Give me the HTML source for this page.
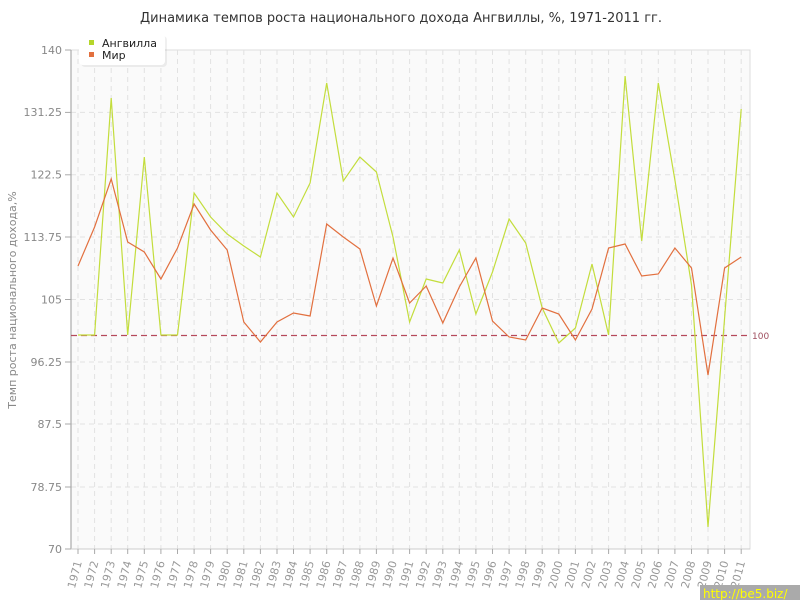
<!DOCTYPE html>
<html><head><meta charset="utf-8"><style>
body{margin:0;background:#fff;}
svg{display:block;font-family:"DejaVu Sans","Liberation Sans",sans-serif;}
</style></head><body>
<svg width="800" height="600" viewBox="0 0 800 600">
<text x="401" y="22" text-anchor="middle" font-size="13" fill="#333">Динамика темпов роста национального дохода Ангвиллы, %, 1971-2011 гг.</text>
<rect x="71" y="50" width="679" height="499" fill="#fafafa" stroke="#ddd"/>
<g stroke="#e2e2e2" stroke-dasharray="5,4" stroke-width="1">
<line x1="71" x2="750" y1="112.4" y2="112.4"/><line x1="71" x2="750" y1="174.8" y2="174.8"/><line x1="71" x2="750" y1="237" y2="237"/><line x1="71" x2="750" y1="299.5" y2="299.5"/><line x1="71" x2="750" y1="362" y2="362"/><line x1="71" x2="750" y1="424" y2="424"/><line x1="71" x2="750" y1="487" y2="487"/>
<line x1="78" x2="78" y1="50" y2="549"/><line x1="94.6" x2="94.6" y1="50" y2="549"/><line x1="111.2" x2="111.2" y1="50" y2="549"/><line x1="127.7" x2="127.7" y1="50" y2="549"/><line x1="144.3" x2="144.3" y1="50" y2="549"/><line x1="160.9" x2="160.9" y1="50" y2="549"/><line x1="177.5" x2="177.5" y1="50" y2="549"/><line x1="194.1" x2="194.1" y1="50" y2="549"/><line x1="210.6" x2="210.6" y1="50" y2="549"/><line x1="227.2" x2="227.2" y1="50" y2="549"/><line x1="243.8" x2="243.8" y1="50" y2="549"/><line x1="260.4" x2="260.4" y1="50" y2="549"/><line x1="277" x2="277" y1="50" y2="549"/><line x1="293.5" x2="293.5" y1="50" y2="549"/><line x1="310.1" x2="310.1" y1="50" y2="549"/><line x1="326.7" x2="326.7" y1="50" y2="549"/><line x1="343.3" x2="343.3" y1="50" y2="549"/><line x1="359.9" x2="359.9" y1="50" y2="549"/><line x1="376.4" x2="376.4" y1="50" y2="549"/><line x1="393" x2="393" y1="50" y2="549"/><line x1="409.6" x2="409.6" y1="50" y2="549"/><line x1="426.2" x2="426.2" y1="50" y2="549"/><line x1="442.8" x2="442.8" y1="50" y2="549"/><line x1="459.3" x2="459.3" y1="50" y2="549"/><line x1="475.9" x2="475.9" y1="50" y2="549"/><line x1="492.5" x2="492.5" y1="50" y2="549"/><line x1="509.1" x2="509.1" y1="50" y2="549"/><line x1="525.7" x2="525.7" y1="50" y2="549"/><line x1="542.2" x2="542.2" y1="50" y2="549"/><line x1="558.8" x2="558.8" y1="50" y2="549"/><line x1="575.4" x2="575.4" y1="50" y2="549"/><line x1="592" x2="592" y1="50" y2="549"/><line x1="608.6" x2="608.6" y1="50" y2="549"/><line x1="625.1" x2="625.1" y1="50" y2="549"/><line x1="641.7" x2="641.7" y1="50" y2="549"/><line x1="658.3" x2="658.3" y1="50" y2="549"/><line x1="674.9" x2="674.9" y1="50" y2="549"/><line x1="691.5" x2="691.5" y1="50" y2="549"/><line x1="708" x2="708" y1="50" y2="549"/><line x1="724.6" x2="724.6" y1="50" y2="549"/><line x1="741.2" x2="741.2" y1="50" y2="549"/>
</g>
<line x1="71" y1="50" x2="71" y2="549" stroke="#999"/>
<line x1="71" y1="549" x2="750" y2="549" stroke="#ccc"/>
<g stroke="#aaa">
<line x1="65" x2="71" y1="50" y2="50"/><line x1="65" x2="71" y1="112.4" y2="112.4"/><line x1="65" x2="71" y1="174.8" y2="174.8"/><line x1="65" x2="71" y1="237" y2="237"/><line x1="65" x2="71" y1="299.5" y2="299.5"/><line x1="65" x2="71" y1="362" y2="362"/><line x1="65" x2="71" y1="424" y2="424"/><line x1="65" x2="71" y1="487" y2="487"/><line x1="65" x2="71" y1="549" y2="549"/>
</g>
<g font-size="11" fill="#888" text-anchor="end">
<text x="62" y="54">140</text><text x="62" y="116">131.25</text><text x="62" y="178.5">122.5</text><text x="62" y="241">113.75</text><text x="62" y="303.5">105</text><text x="62" y="366">96.25</text><text x="62" y="428">87.5</text><text x="62" y="491">78.75</text><text x="62" y="553">70</text>
</g>
<text transform="translate(16,300) rotate(-90)" text-anchor="middle" font-size="11" fill="#888">Темп роста национального дохода,%</text>
<line x1="71" y1="335.5" x2="750" y2="335.5" stroke="#b5495b" stroke-width="1.3" stroke-dasharray="6,4"/>
<text x="752" y="339" font-size="9" fill="#a05060">100</text>
<polyline fill="none" stroke="#c3dd3c" stroke-width="1.2" points="78,335 94.6,335 111.2,98 127.7,335 144.3,157 160.9,335 177.5,335 194.1,193 210.6,217 227.2,234 243.8,246 260.4,257 277,193 293.5,217 310.1,183 326.7,83 343.3,181 359.9,157 376.4,172 393,237 409.6,322 426.2,279 442.8,283 459.3,250 475.9,314 492.5,272 509.1,219 525.7,243 542.2,308 558.8,343 575.4,328 592,264 608.6,335 625.1,76 641.7,241 658.3,83 674.9,180 691.5,285 708,527 724.6,318 741.2,109"/>
<polyline fill="none" stroke="#e2703f" stroke-width="1.2" points="78,266 94.6,227 111.2,179 127.7,242 144.3,252 160.9,279 177.5,248 194.1,204 210.6,230 227.2,250 243.8,322 260.4,342 277,322 293.5,313 310.1,316 326.7,224 343.3,237 359.9,249 376.4,306 393,258 409.6,303 426.2,286 442.8,323 459.3,287 475.9,258 492.5,321 509.1,337 525.7,340 542.2,308 558.8,314 575.4,340 592,309 608.6,248 625.1,244 641.7,276 658.3,274 674.9,248 691.5,268 708,375 724.6,268 741.2,257"/>
<g stroke="#aaa">
<line x1="78" x2="78" y1="549" y2="554"/><line x1="94.6" x2="94.6" y1="549" y2="554"/><line x1="111.2" x2="111.2" y1="549" y2="554"/><line x1="127.7" x2="127.7" y1="549" y2="554"/><line x1="144.3" x2="144.3" y1="549" y2="554"/><line x1="160.9" x2="160.9" y1="549" y2="554"/><line x1="177.5" x2="177.5" y1="549" y2="554"/><line x1="194.1" x2="194.1" y1="549" y2="554"/><line x1="210.6" x2="210.6" y1="549" y2="554"/><line x1="227.2" x2="227.2" y1="549" y2="554"/><line x1="243.8" x2="243.8" y1="549" y2="554"/><line x1="260.4" x2="260.4" y1="549" y2="554"/><line x1="277" x2="277" y1="549" y2="554"/><line x1="293.5" x2="293.5" y1="549" y2="554"/><line x1="310.1" x2="310.1" y1="549" y2="554"/><line x1="326.7" x2="326.7" y1="549" y2="554"/><line x1="343.3" x2="343.3" y1="549" y2="554"/><line x1="359.9" x2="359.9" y1="549" y2="554"/><line x1="376.4" x2="376.4" y1="549" y2="554"/><line x1="393" x2="393" y1="549" y2="554"/><line x1="409.6" x2="409.6" y1="549" y2="554"/><line x1="426.2" x2="426.2" y1="549" y2="554"/><line x1="442.8" x2="442.8" y1="549" y2="554"/><line x1="459.3" x2="459.3" y1="549" y2="554"/><line x1="475.9" x2="475.9" y1="549" y2="554"/><line x1="492.5" x2="492.5" y1="549" y2="554"/><line x1="509.1" x2="509.1" y1="549" y2="554"/><line x1="525.7" x2="525.7" y1="549" y2="554"/><line x1="542.2" x2="542.2" y1="549" y2="554"/><line x1="558.8" x2="558.8" y1="549" y2="554"/><line x1="575.4" x2="575.4" y1="549" y2="554"/><line x1="592" x2="592" y1="549" y2="554"/><line x1="608.6" x2="608.6" y1="549" y2="554"/><line x1="625.1" x2="625.1" y1="549" y2="554"/><line x1="641.7" x2="641.7" y1="549" y2="554"/><line x1="658.3" x2="658.3" y1="549" y2="554"/><line x1="674.9" x2="674.9" y1="549" y2="554"/><line x1="691.5" x2="691.5" y1="549" y2="554"/><line x1="708" x2="708" y1="549" y2="554"/><line x1="724.6" x2="724.6" y1="549" y2="554"/><line x1="741.2" x2="741.2" y1="549" y2="554"/>
</g>
<g font-size="11" fill="#999" text-anchor="end">
<text transform="translate(82,562) rotate(-75)">1971</text><text transform="translate(98.6,562) rotate(-75)">1972</text><text transform="translate(115.2,562) rotate(-75)">1973</text><text transform="translate(131.7,562) rotate(-75)">1974</text><text transform="translate(148.3,562) rotate(-75)">1975</text><text transform="translate(164.9,562) rotate(-75)">1976</text><text transform="translate(181.5,562) rotate(-75)">1977</text><text transform="translate(198.1,562) rotate(-75)">1978</text><text transform="translate(214.6,562) rotate(-75)">1979</text><text transform="translate(231.2,562) rotate(-75)">1980</text><text transform="translate(247.8,562) rotate(-75)">1981</text><text transform="translate(264.4,562) rotate(-75)">1982</text><text transform="translate(281,562) rotate(-75)">1983</text><text transform="translate(297.5,562) rotate(-75)">1984</text><text transform="translate(314.1,562) rotate(-75)">1985</text><text transform="translate(330.7,562) rotate(-75)">1986</text><text transform="translate(347.3,562) rotate(-75)">1987</text><text transform="translate(363.9,562) rotate(-75)">1988</text><text transform="translate(380.4,562) rotate(-75)">1989</text><text transform="translate(397,562) rotate(-75)">1990</text><text transform="translate(413.6,562) rotate(-75)">1991</text><text transform="translate(430.2,562) rotate(-75)">1992</text><text transform="translate(446.8,562) rotate(-75)">1993</text><text transform="translate(463.3,562) rotate(-75)">1994</text><text transform="translate(479.9,562) rotate(-75)">1995</text><text transform="translate(496.5,562) rotate(-75)">1996</text><text transform="translate(513.1,562) rotate(-75)">1997</text><text transform="translate(529.7,562) rotate(-75)">1998</text><text transform="translate(546.2,562) rotate(-75)">1999</text><text transform="translate(562.8,562) rotate(-75)">2000</text><text transform="translate(579.4,562) rotate(-75)">2001</text><text transform="translate(596,562) rotate(-75)">2002</text><text transform="translate(612.6,562) rotate(-75)">2003</text><text transform="translate(629.1,562) rotate(-75)">2004</text><text transform="translate(645.7,562) rotate(-75)">2005</text><text transform="translate(662.3,562) rotate(-75)">2006</text><text transform="translate(678.9,562) rotate(-75)">2007</text><text transform="translate(695.5,562) rotate(-75)">2008</text><text transform="translate(712,562) rotate(-75)">2009</text><text transform="translate(728.6,562) rotate(-75)">2010</text><text transform="translate(745.2,562) rotate(-75)">2011</text>
</g>
<rect x="81" y="36" width="86" height="31" rx="4" fill="#000" opacity="0.06"/>
<rect x="79" y="34" width="86" height="31" rx="4" fill="#fff"/>
<rect x="89" y="40" width="5" height="5" fill="#b5d62a"/>
<rect x="89" y="52" width="5" height="5" fill="#e2703f"/>
<text x="102" y="47" font-size="11" fill="#222">Ангвилла</text>
<text x="102" y="59" font-size="11" fill="#222">Мир</text>
<rect x="700" y="585" width="100" height="15" fill="#aaa"/>
<text x="703" y="598" font-size="12" fill="#ffff00">http://be5.biz/</text>
</svg>
</body></html>
